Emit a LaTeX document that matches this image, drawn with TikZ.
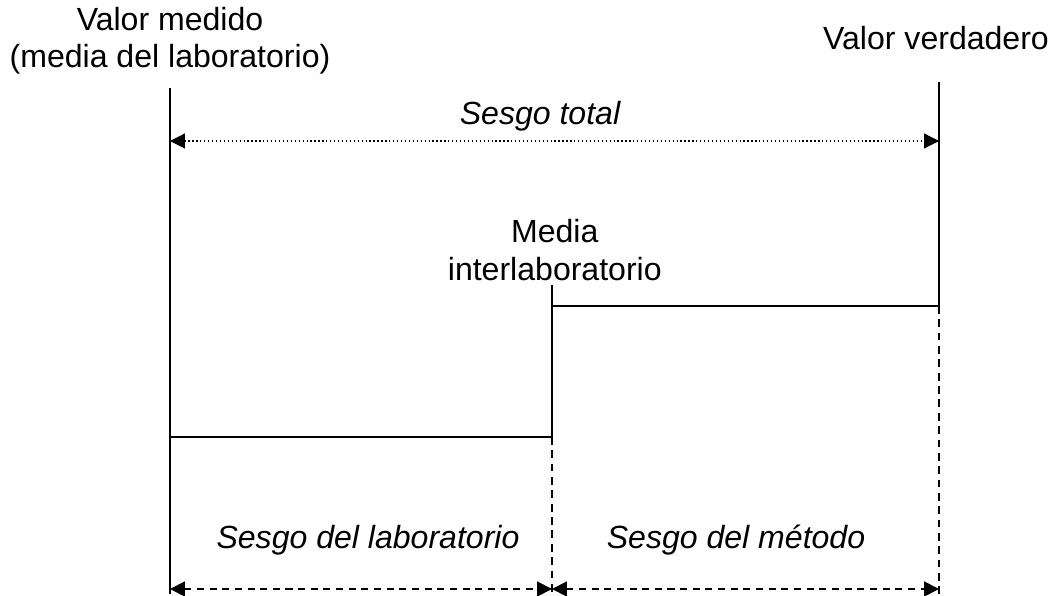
\documentclass[tikz,border=0pt]{standalone}
\usepackage{fontspec}
\setmainfont{Liberation Sans}
\usetikzlibrary{arrows.meta}

\tikzset{
  lbl/.style={font=\fontsize{22.8}{26.5}\selectfont, align=center, inner sep=0pt},
  slbl/.style={lbl, font=\fontsize{22.8}{26.5}\selectfont\itshape},
  wall/.style={line width=1.4pt},
  gap/.style={line width=1.4pt, dash pattern=on 5.5pt off 4pt},
  total/.style={line width=0.8pt, dash pattern=on 0.9pt off 1.9pt, {Triangle[length=10.5pt,width=10.5pt]}-{Triangle[length=10.5pt,width=10.5pt]}},
  part/.style={line width=1.4pt, dash pattern=on 5pt off 4pt, {Triangle[length=10.5pt,width=10.5pt]}-{Triangle[length=10.5pt,width=10.5pt]}},
}

\begin{document}
\begin{tikzpicture}
\useasboundingbox (0,0) rectangle (26.375,14.9);

\node[lbl] (measured) at (4.25,13.88) {Valor medido\\(media del laboratorio)};
\node[lbl] (true) at (23.4,13.95) {Valor verdadero};
\node[slbl] (total) at (13.5,12.0) {Sesgo total};
\node[lbl] (inter) at (13.87,8.65) {Media\\interlaboratorio};
\node[slbl] (lab) at (9.2,1.4) {Sesgo del laboratorio};
\node[slbl] (method) at (18.4,1.4) {Sesgo del método};

\coordinate (mTop) at (4.25,12.7);
\coordinate (mStep) at (4.25,3.975);
\coordinate (mBot) at (4.25,0.05);
\coordinate (iTop) at (13.8,7.775);
\coordinate (iHigh) at (13.8,7.25);
\coordinate (iStep) at (13.8,3.975);
\coordinate (iBot) at (13.8,0.05);
\coordinate (vTop) at (23.475,12.85);
\coordinate (vStep) at (23.475,7.25);
\coordinate (vBot) at (23.475,0.05);

\draw[wall] (mTop) -- (mBot);
\draw[wall] (mStep) -- (iStep);
\draw[wall] (iTop) -- (iStep);
\draw[gap] (iStep) -- (iBot);
\draw[wall] (iHigh) -- (vStep);
\draw[wall] (vTop) -- (vStep);
\draw[gap] (vStep) -- (vBot);

\coordinate (tL) at (4.25,11.375);
\coordinate (tR) at (23.475,11.375);
\draw[total] (tL) -- (tR);

\foreach \a/\b in {mBot/iBot, iBot/vBot}
{
	\draw[part] ([yshift=0.125cm]\a) -- ([yshift=0.125cm]\b);
}
\end{tikzpicture}
\end{document}
